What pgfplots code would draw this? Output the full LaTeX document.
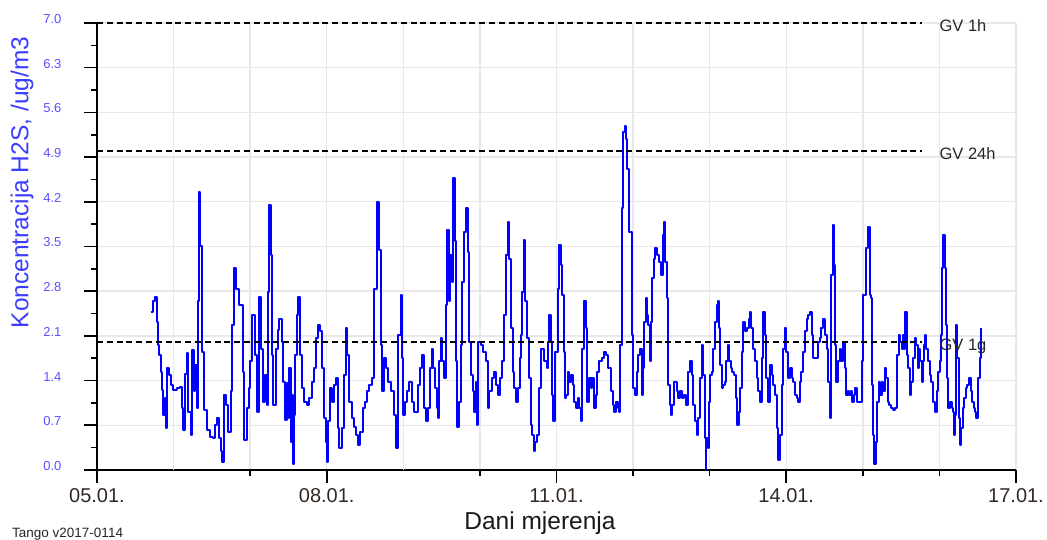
\documentclass[border=0pt]{standalone}
\usepackage{fontspec}
\setmainfont{Liberation Sans}
\usepackage{pgfplots}
\pgfplotsset{compat=1.18}
\definecolor{ylab}{RGB}{60,60,255}
\definecolor{ytickc}{RGB}{90,80,255}
\definecolor{gridc}{RGB}{232,232,232}
\definecolor{xtickc}{RGB}{50,40,35}

\pgfplotstableread{
x y
5.705 2.48
5.731 2.64
5.757 2.71
5.783 2.32
5.801 1.96
5.814 1.80
5.831 1.54
5.844 1.25
5.866 0.86
5.883 1.12
5.896 0.65
5.914 1.59
5.940 1.49
5.966 1.33
5.997 1.25
6.040 1.28
6.084 1.30
6.105 0.97
6.127 0.63
6.149 1.51
6.171 1.83
6.193 0.91
6.223 0.55
6.245 1.88
6.262 1.23
6.279 1.64
6.301 0.97
6.314 2.64
6.327 4.36
6.345 3.50
6.375 1.85
6.401 0.94
6.432 0.63
6.475 0.52
6.519 0.50
6.540 0.70
6.562 0.81
6.593 0.50
6.619 0.29
6.636 0.13
6.662 1.17
6.684 1.02
6.714 0.60
6.749 1.23
6.767 2.27
6.789 3.16
6.810 2.84
6.854 2.58
6.902 1.54
6.919 0.47
6.954 0.97
6.984 1.28
7.002 1.70
7.028 2.43
7.063 1.80
7.089 0.91
7.119 2.71
7.141 1.90
7.171 1.07
7.193 1.49
7.215 1.02
7.228 2.79
7.250 4.15
7.267 3.37
7.289 1.80
7.302 1.02
7.332 1.90
7.358 2.19
7.380 2.37
7.411 2.01
7.432 1.38
7.454 0.78
7.476 1.36
7.489 0.81
7.507 1.59
7.528 0.44
7.541 1.17
7.559 0.10
7.576 0.86
7.585 1.80
7.607 2.43
7.628 2.71
7.646 1.80
7.672 1.28
7.707 1.07
7.742 1.02
7.768 1.12
7.802 1.38
7.837 1.59
7.863 2.06
7.889 2.27
7.911 2.17
7.942 1.59
7.968 0.81
7.994 0.44
8.003 0.13
8.020 0.76
8.042 1.28
8.064 1.07
8.090 1.33
8.116 1.44
8.142 0.65
8.164 0.34
8.194 0.65
8.220 1.49
8.246 2.22
8.264 1.80
8.290 1.07
8.325 0.81
8.360 0.68
8.386 0.55
8.412 0.39
8.438 0.60
8.473 0.97
8.499 1.07
8.525 1.23
8.551 1.33
8.595 1.44
8.621 2.84
8.655 4.20
8.677 3.44
8.703 1.96
8.716 1.23
8.742 1.75
8.773 1.59
8.803 1.38
8.838 1.23
8.882 0.86
8.908 0.34
8.934 2.11
8.964 2.74
8.977 1.75
8.995 0.86
9.021 1.07
9.043 1.23
9.073 1.38
9.108 1.07
9.143 0.91
9.195 1.33
9.217 1.59
9.239 1.80
9.273 0.97
9.300 0.76
9.304 0.76
9.326 0.97
9.347 1.59
9.369 1.90
9.391 1.59
9.413 1.28
9.434 0.97
9.447 0.81
9.465 1.70
9.491 2.06
9.508 1.70
9.534 1.44
9.552 2.58
9.574 3.76
9.595 2.64
9.613 3.37
9.630 2.95
9.652 4.57
9.674 3.58
9.687 1.70
9.704 0.68
9.726 1.07
9.752 1.96
9.769 2.95
9.791 3.73
9.813 4.10
9.839 3.42
9.861 2.01
9.883 1.49
9.904 1.23
9.926 0.91
9.943 1.38
9.961 0.70
9.978 2.01
10.009 1.96
10.044 1.85
10.074 1.70
10.100 0.97
10.122 1.23
10.152 1.44
10.183 1.54
10.205 1.33
10.231 1.17
10.257 1.44
10.283 1.70
10.309 2.43
10.335 3.37
10.361 3.89
10.383 3.31
10.405 2.22
10.426 1.54
10.448 1.28
10.474 1.07
10.496 1.28
10.518 1.75
10.540 2.11
10.553 2.79
10.570 3.60
10.588 2.64
10.614 2.06
10.640 1.44
10.666 0.70
10.683 0.55
10.701 0.29
10.722 0.44
10.749 0.55
10.770 1.28
10.792 1.90
10.818 1.90
10.840 1.70
10.870 1.59
10.892 2.01
10.905 2.43
10.923 2.01
10.940 1.17
10.957 0.76
10.979 1.85
11.001 1.85
11.023 2.84
11.036 3.52
11.053 3.21
11.071 2.74
11.092 1.85
11.114 1.12
11.123 1.17
11.145 1.54
11.166 1.38
11.188 1.49
11.210 1.33
11.232 1.07
11.253 0.97
11.275 1.12
11.297 0.97
11.319 0.76
11.336 1.90
11.358 2.64
11.380 2.22
11.401 1.07
11.423 1.44
11.445 1.28
11.467 1.44
11.488 0.97
11.510 1.17
11.532 1.54
11.554 1.70
11.588 1.75
11.619 1.85
11.649 1.80
11.675 1.59
11.706 1.23
11.732 1.02
11.754 0.91
11.775 1.07
11.797 0.97
11.819 0.91
11.832 1.96
11.850 4.10
11.871 5.30
11.889 5.38
11.902 5.19
11.923 4.72
11.950 3.73
11.980 2.11
12.002 1.28
12.024 1.17
12.045 1.54
12.067 1.80
12.089 1.90
12.111 1.17
12.132 1.59
12.145 2.32
12.163 2.69
12.180 2.43
12.198 2.27
12.215 1.70
12.232 2.32
12.250 3.00
12.267 3.31
12.289 3.47
12.311 3.37
12.337 3.26
12.363 3.05
12.385 3.68
12.402 3.89
12.415 3.26
12.437 2.69
12.454 1.33
12.476 1.02
12.494 0.86
12.511 1.02
12.537 1.38
12.567 1.23
12.589 1.12
12.615 1.23
12.641 1.12
12.668 1.17
12.689 1.02
12.720 1.54
12.742 1.70
12.763 1.49
12.785 1.02
12.807 0.76
12.829 0.55
12.850 0.81
12.872 1.44
12.898 1.96
12.911 1.49
12.933 0.50
12.950 0.00
12.955 0.50
12.972 0.34
12.985 1.07
13.003 1.49
13.024 1.54
13.046 1.90
13.068 2.32
13.090 2.58
13.111 2.64
13.124 2.22
13.138 1.64
13.155 1.28
13.177 1.33
13.198 1.38
13.216 1.70
13.233 1.96
13.251 1.70
13.272 1.59
13.294 1.54
13.316 1.49
13.338 1.12
13.359 0.70
13.377 0.91
13.394 1.28
13.416 1.85
13.438 2.32
13.460 2.17
13.486 2.22
13.507 2.37
13.525 2.48
13.542 2.22
13.568 1.90
13.590 1.70
13.612 1.44
13.634 1.23
13.655 1.07
13.677 1.75
13.699 2.48
13.721 2.11
13.742 1.44
13.764 1.07
13.786 1.64
13.808 1.49
13.829 1.33
13.851 1.17
13.873 0.65
13.895 0.16
13.916 0.55
13.938 1.33
13.960 1.90
13.982 2.22
14.003 1.85
14.025 1.44
14.047 1.59
14.069 1.44
14.091 1.38
14.112 1.17
14.134 1.12
14.156 1.07
14.178 1.38
14.199 1.54
14.221 1.85
14.243 2.17
14.265 2.37
14.286 2.43
14.308 2.48
14.330 2.11
14.352 1.75
14.395 1.75
14.417 2.01
14.439 2.06
14.460 2.22
14.482 2.37
14.504 2.11
14.526 1.90
14.547 1.38
14.565 0.81
14.578 3.05
14.604 3.84
14.621 3.21
14.639 1.96
14.656 1.38
14.678 1.70
14.700 1.90
14.721 1.70
14.743 2.01
14.765 1.59
14.782 1.17
14.800 1.23
14.822 1.17
14.843 1.23
14.861 1.07
14.883 1.17
14.904 1.28
14.922 1.07
14.943 1.07
14.965 1.07
14.983 1.70
15.004 2.74
15.026 2.74
15.039 3.47
15.057 3.47
15.070 3.81
15.087 2.74
15.104 2.69
15.117 1.33
15.135 0.55
15.152 0.10
15.170 0.44
15.187 1.07
15.205 1.38
15.222 1.17
15.244 1.38
15.265 1.23
15.283 1.59
15.305 1.44
15.322 1.07
15.348 1.02
15.374 0.97
15.400 0.94
15.426 0.97
15.448 1.80
15.470 2.11
15.487 2.01
15.505 1.90
15.522 2.11
15.540 1.90
15.557 2.48
15.574 1.80
15.592 1.59
15.614 1.17
15.635 1.38
15.657 1.75
15.679 2.06
15.696 1.96
15.714 1.59
15.731 1.90
15.748 1.70
15.766 1.38
15.783 1.70
15.801 1.96
15.814 2.11
15.831 1.90
15.853 1.70
15.875 1.49
15.896 1.38
15.918 1.07
15.940 0.91
15.962 1.23
15.983 1.54
16.005 1.70
16.023 2.11
16.036 3.16
16.053 3.68
16.071 3.16
16.084 2.27
16.101 1.44
16.118 0.97
16.140 1.07
16.158 0.97
16.171 0.91
16.184 0.55
16.201 0.86
16.218 2.27
16.236 1.75
16.253 0.81
16.271 0.39
16.288 0.65
16.305 0.97
16.323 1.12
16.345 1.28
16.366 1.33
16.388 1.44
16.406 1.23
16.427 1.07
16.445 0.97
16.462 0.91
16.484 0.81
16.506 1.44
16.527 1.75
16.549 2.22
}\hstable

\begin{document}
\begin{tikzpicture}
\begin{axis}[
  name=ax, at={(0pt,0pt)}, anchor=south west,
  scale only axis, width=919pt, height=447pt,
  xmin=5, xmax=17, ymin=0, ymax=7,
  clip=false,
  axis lines*=left,
  axis line style={line width=1.6pt, black},
  tick align=outside,
  major tick length=13pt, minor tick length=6pt,
  tick style={black, line width=1.6pt},
  xtick={5,8,11,14,17},
  xticklabels={05.01.,08.01.,11.01.,14.01.,17.01.},
  minor xtick={7,10,12,13,15,16},
  extra x ticks={6,9}, extra x tick labels={},
  extra x tick style={grid=major, major tick length=0pt, tick style={draw=none}},
  ytick={0,0.7,1.4,2.1,2.8,3.5,4.2,4.9,5.6,6.3,7.0},
  yticklabels={0.0,0.7,1.4,2.1,2.8,3.5,4.2,4.9,5.6,6.3,7.0},
  minor ytick={0.35,1.05,1.75,2.45,3.15,3.85,4.55,5.25,5.95,6.65},
  xmajorgrids=true, xminorgrids=true, ymajorgrids=true, yminorgrids=false,
  grid style={gridc, line width=1.4pt},
  minor grid style={gridc, line width=1.4pt},
  /pgf/number format/assume math mode=true,
  yticklabel style={font=\fontsize{13}{13}\selectfont, text=ytickc, xshift=-19pt, yshift=4pt},
  xticklabel style={font=\fontsize{20}{20}\selectfont, text=xtickc, inner sep=2pt, yshift=-3pt},
]
\addplot[color=blue, line width=2.0pt, const plot, line join=round] table[x=x, y=y] {\hstable};
\addplot[black, line width=1.6pt, dash pattern=on 6pt off 3.8pt] coordinates {(5,7) (15.77,7)};
\addplot[black, line width=1.6pt, dash pattern=on 6pt off 3.8pt] coordinates {(5,5) (15.77,5)};
\addplot[black, line width=1.6pt, dash pattern=on 6pt off 3.8pt] coordinates {(5,2) (15.77,2)};
\node[anchor=base west, inner sep=0pt, font=\fontsize{16.5}{16.5}\selectfont, text=black!85] at (axis cs:16.0,6.86) {GV 1h};
\node[anchor=base west, inner sep=0pt, font=\fontsize{16.5}{16.5}\selectfont, text=black!85] at (axis cs:16.0,4.87) {GV 24h};
\node[anchor=base west, inner sep=0pt, font=\fontsize{16.5}{16.5}\selectfont, text=black!85] at (axis cs:16.0,1.87) {GV 1g};
\end{axis}
\node[rotate=90, anchor=center, inner sep=0pt, font=\fontsize{24.5}{24.5}\selectfont, text=ylab] at ([xshift=-75pt, yshift=287.5pt]ax.south west) {Koncentracija H2S, /ug/m3};
\node[anchor=base, inner sep=0pt, font=\fontsize{24.5}{24.5}\selectfont, text=black!90] at ([xshift=443pt, yshift=-60pt]ax.south west) {Dani mjerenja};
\node[anchor=base west, inner sep=0pt, font=\fontsize{13.5}{13.5}\selectfont, text=black!85] at ([xshift=-85pt, yshift=-68pt]ax.south west) {Tango v2017-0114};
\pgfresetboundingbox
\path[use as bounding box] (ax.south west) ++(-97pt,-70pt) rectangle ++(1047pt,540pt);
\end{tikzpicture}
\end{document}
